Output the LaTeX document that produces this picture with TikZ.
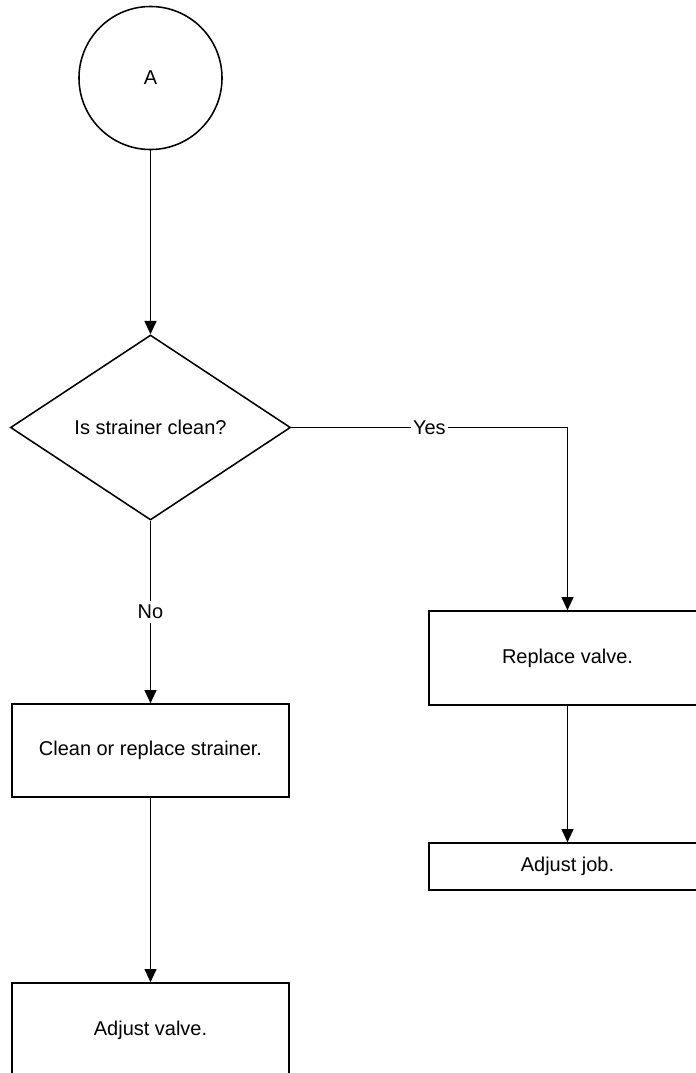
\documentclass[tikz,border=0pt]{standalone}
\usepackage{fontspec}
\setmainfont{Liberation Sans}
\usetikzlibrary{shapes.geometric,arrows.meta}

\begin{document}
\begin{tikzpicture}[
	x=0.025cm, y=-0.025cm,
	font=\fontsize{14.2}{16}\selectfont,
	line width=1.1pt,
	terminal/.style={circle, draw, minimum size=3.575cm, inner sep=0pt},
	decision/.style={diamond, draw, minimum width=7cm, minimum height=4.625cm, inner sep=0pt},
	action/.style={rectangle, draw, minimum width=6.925cm, inner sep=0pt},
	flow/.style={-{Triangle[width=0.3cm,length=0.33cm]}},
	answer/.style={fill=white, inner xsep=1.5pt, inner ysep=3pt},
	]
	\clip (0,0) rectangle (696,1073);
	\node [terminal] (start) at (150.5,78) {A};
	\node [decision] (strainer) at (150.5,427.5) {Is strainer clean?};
	\node [action, minimum height=2.325cm] (clean) at (150.5,750.5) {Clean or replace strainer.};
	\node [action, minimum height=2.35cm] (adjvalve) at (150.5,1030) {Adjust valve.};
	\node [action, minimum height=2.35cm] (replace) at (567.5,658) {Replace valve.};
	\node [action, minimum height=1.175cm] (adjjob) at (567.5,866.5) {Adjust job.};

	\draw [flow] (start) -- (strainer);
	\draw [flow] (strainer) -- node [answer] {No} (clean);
	\draw [flow] (strainer.east) -| node [answer, pos=0.25] {Yes} (replace);
	\draw [flow] (clean) -- (adjvalve);
	\draw [flow] (replace) -- (adjjob);
\end{tikzpicture}
\end{document}
